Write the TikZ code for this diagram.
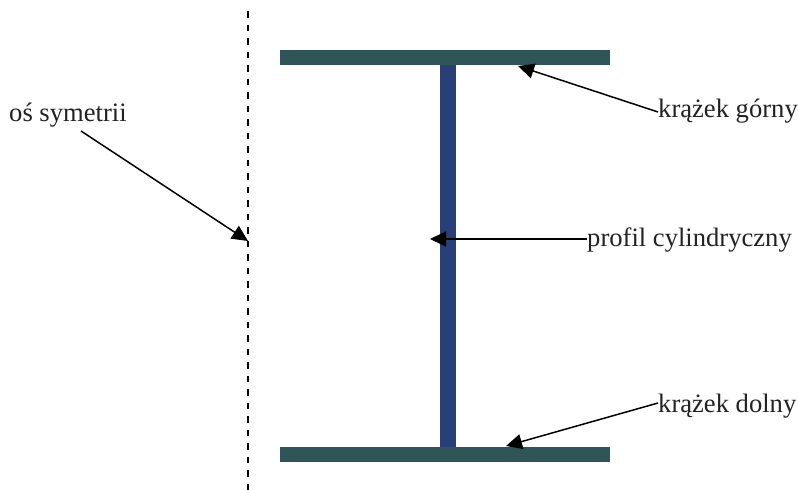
\documentclass[tikz,border=0pt]{standalone}
\usepackage{fontspec}
\setmainfont{Liberation Serif}
\usetikzlibrary{arrows.meta}
\definecolor{flange}{HTML}{2F5559}
\definecolor{web}{HTML}{283F78}
\definecolor{ink}{HTML}{222222}
\tikzset{
  x=1pt,y=-1pt,
  flangebar/.style={fill=flange,draw=none},
  webbar/.style={fill=web,draw=none},
  lbl/.style={font=\fontsize{26.6}{30}\selectfont,text=ink,inner sep=0pt,anchor=base west},
  pointer/.style={draw=black,line width=1.5pt,-{Triangle[length=16pt,width=15pt]},shorten >=0pt},
  axisline/.style={draw=black,line width=1.7pt,dash pattern=on 6.7pt off 6.8pt}
}
\begin{document}
\begin{tikzpicture}
\useasboundingbox (0,0) rectangle (798,490);
\fill[white] (0,0) rectangle (798,490);
\coordinate (axisTop) at (248,11);
\coordinate (axisBot) at (248,490);
\draw[axisline] (axisTop) -- (axisBot);
\node[webbar,minimum width=16pt,minimum height=382pt,inner sep=0pt] (webN) at (448,256) {};
\node[flangebar,minimum width=330pt,minimum height=15pt,inner sep=0pt] (topN) at (445,57.5) {};
\node[flangebar,minimum width=330pt,minimum height=15pt,inner sep=0pt] (botN) at (445,454.5) {};
\node[lbl] (os) at (9,121) {oś symetrii};
\node[lbl] (gorny) at (658,117) {krążek górny};
\node[lbl] (prof) at (587,246) {profil cylindryczny};
\node[lbl] (dolny) at (658,412.5) {krążek dolny};
\coordinate (osS) at (81,131);
\coordinate (osT) at (248,241);
\coordinate (gS) at (658,112);
\coordinate (gT) at (518,66);
\coordinate (pS) at (587,239);
\coordinate (pT) at (430,239);
\coordinate (dS) at (658,403);
\coordinate (dT) at (506,446);
\draw[pointer] (osS) -- (osT);
\draw[pointer] (gS) -- (gT);
\draw[pointer] (pS) -- (pT);
\draw[pointer] (dS) -- (dT);
\end{tikzpicture}
\end{document}
